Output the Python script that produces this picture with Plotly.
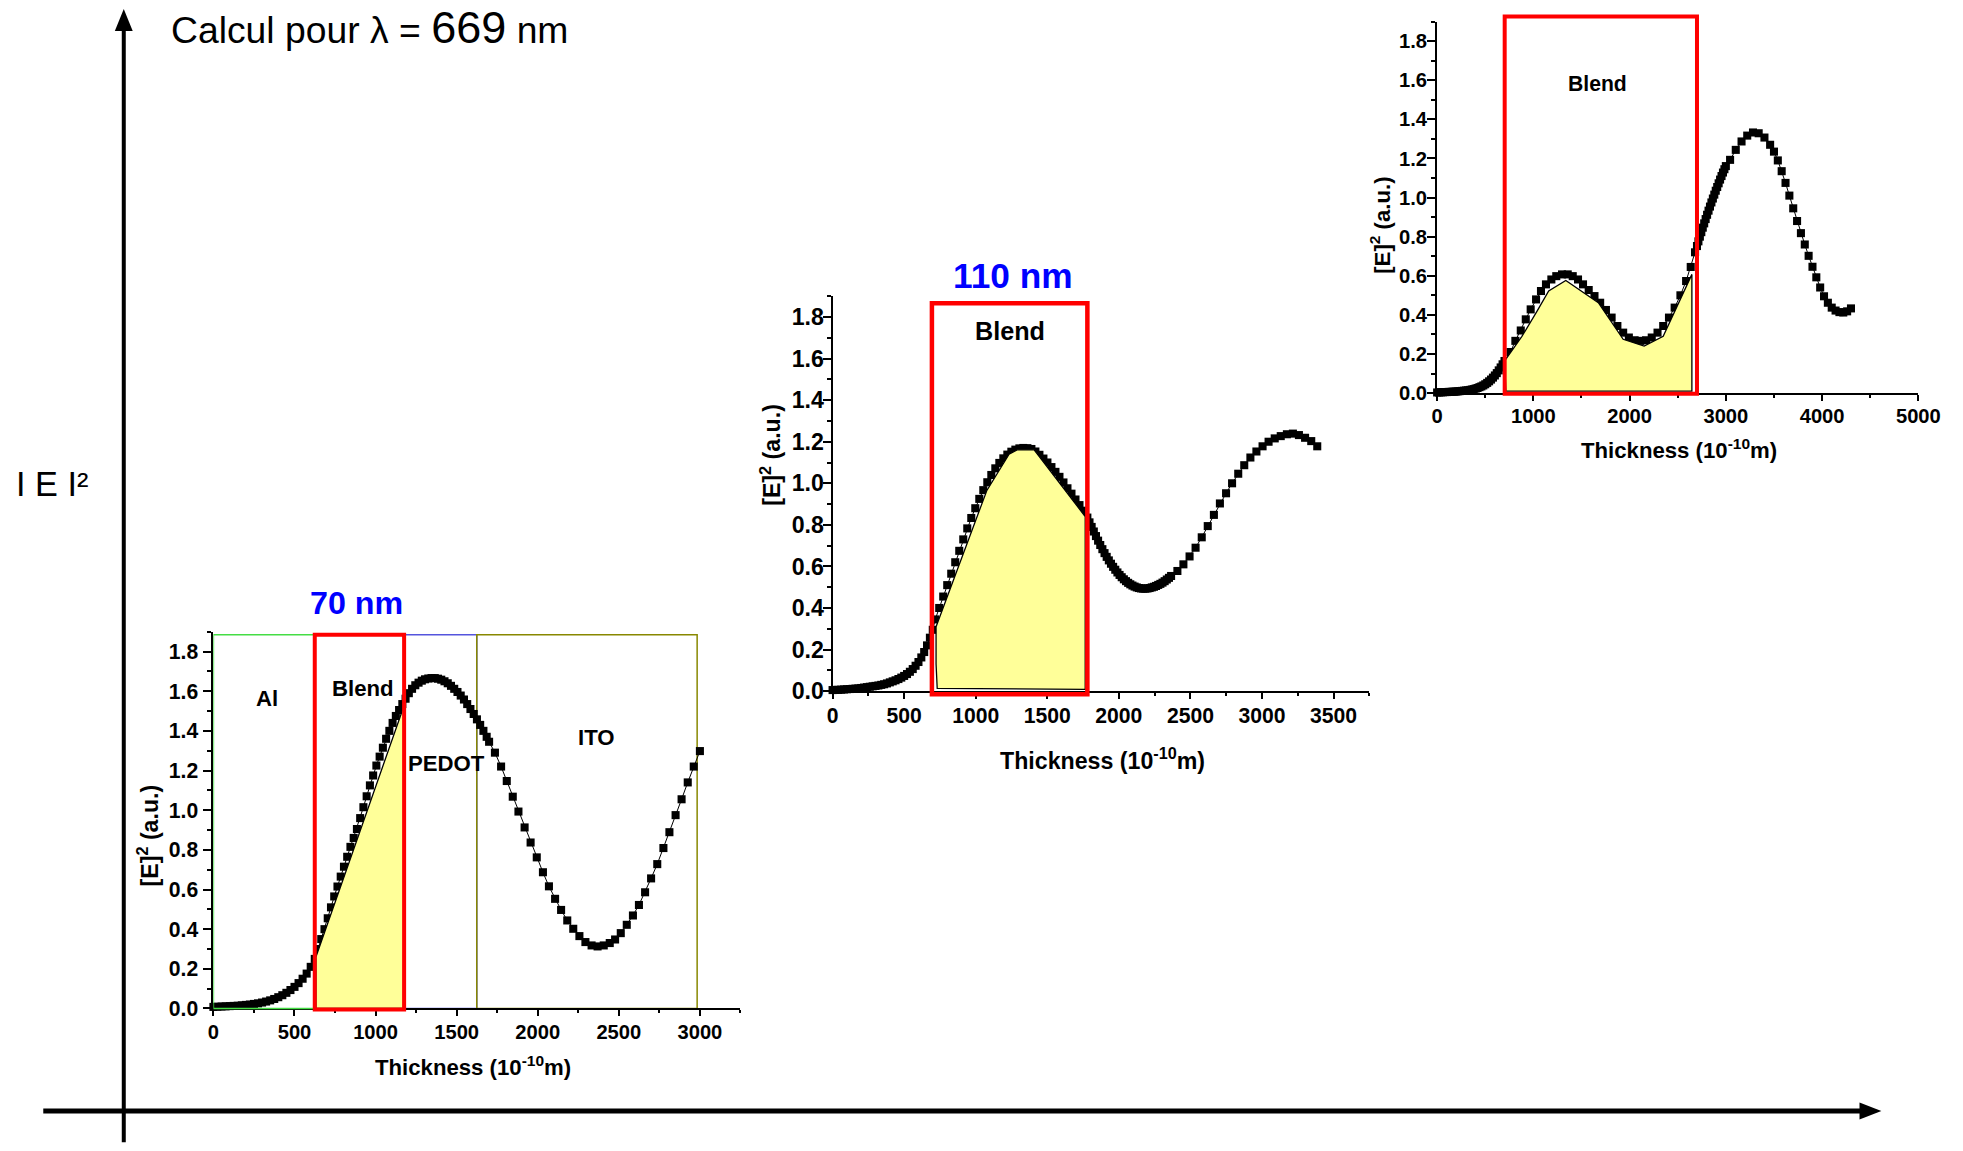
import plotly.graph_objects as go

FONT = "Arial, Liberation Sans, sans-serif"

# ---------------- data: 70 nm blend (bottom-left inset) ----------------
thick_70 = [0, 25, 50, 75, 100, 125, 150, 175, 200, 225, 250, 275, 300, 325, 350, 375, 400, 425, 450, 475,
            500, 525, 550, 575, 600, 625,
            645, 665, 685, 705, 725, 745, 765, 785, 805, 825, 845, 865, 885, 905, 925, 945, 965, 985,
            1005, 1025, 1045, 1065, 1085, 1105, 1125, 1145, 1165, 1185,
            1205, 1225, 1245, 1265, 1285, 1305, 1325, 1345, 1365, 1385, 1405, 1425, 1445, 1465, 1485,
            1505, 1525, 1545, 1565, 1585, 1605, 1625, 1645, 1665, 1685, 1700,
            1736, 1774, 1809, 1846, 1881, 1919, 1956, 1994, 2032, 2069, 2107, 2144, 2182, 2219, 2257,
            2294, 2332, 2369, 2407, 2444, 2477, 2512, 2549, 2587, 2624, 2662, 2699, 2737, 2775, 2812,
            2850, 2887, 2925, 2962, 3000]
e2_70 = [0.008, 0.009, 0.010, 0.011, 0.012, 0.013, 0.014, 0.016, 0.018, 0.020, 0.023, 0.026, 0.030, 0.035,
         0.041, 0.048, 0.057, 0.067, 0.079, 0.093, 0.109, 0.128, 0.150, 0.176, 0.210, 0.250,
         0.300, 0.350, 0.400, 0.455, 0.510, 0.565, 0.615, 0.665, 0.715, 0.765, 0.815, 0.860, 0.905, 0.960,
         1.015, 1.070, 1.125, 1.175, 1.225, 1.270, 1.315, 1.360, 1.400, 1.440, 1.475, 1.505, 1.535, 1.562,
         1.590, 1.612, 1.630, 1.643, 1.653, 1.660, 1.664, 1.666, 1.666, 1.663, 1.658, 1.650, 1.640, 1.627,
         1.612, 1.596, 1.578, 1.558, 1.535, 1.510, 1.485, 1.458, 1.430, 1.400, 1.370, 1.345,
         1.290, 1.220, 1.147, 1.068, 0.993, 0.913, 0.837, 0.762, 0.687, 0.616, 0.553, 0.497, 0.444, 0.402,
         0.365, 0.335, 0.318, 0.313, 0.318, 0.330, 0.348, 0.380, 0.422, 0.469, 0.522, 0.586, 0.656, 0.728,
         0.809, 0.889, 0.975, 1.055, 1.140, 1.220, 1.298]
fill_70_x = [632, 1177, 1172, 632, 632]
fill_70_y = [0.26, 1.53, 0.0, 0.0, 0.26]
layers_70 = [0, 625, 1176, 1624, 2983]          # Al | Blend | PEDOT | ITO
layer_names_70 = ["Al", "Blend", "PEDOT", "ITO"]

# ---------------- data: 110 nm blend (middle inset) ----------------
thick_110 = [0, 20, 40, 60, 80, 100, 120, 140, 160, 180, 200, 220, 240, 260, 280, 300, 320, 340, 360, 380,
             400, 420, 440, 460, 480, 500, 520, 540, 560, 580, 600, 620, 640, 660, 680, 700,
             717, 745, 773, 801, 829, 857, 885, 913, 941, 969, 997, 1025, 1053, 1081, 1109, 1137, 1165,
             1193, 1221, 1249, 1277, 1305, 1333, 1361, 1389, 1417, 1445, 1473, 1501, 1529, 1557, 1585,
             1613, 1641, 1669, 1697, 1725, 1753,
             1780, 1795, 1810, 1825, 1840, 1855, 1870, 1885, 1900, 1915, 1930, 1945, 1960, 1975, 1990,
             2005, 2020, 2035, 2050, 2065, 2080, 2095, 2110, 2125, 2140, 2155, 2170, 2185, 2200, 2215,
             2230, 2245, 2260, 2275, 2290, 2305, 2320, 2335, 2350, 2365,
             2409, 2451, 2494, 2536, 2579, 2621, 2664, 2706, 2749, 2791, 2834, 2876, 2919, 2961, 3004,
             3046, 3089, 3131, 3174, 3216, 3258, 3301, 3344, 3386]
e2_110 = [0.005, 0.006, 0.006, 0.007, 0.008, 0.009, 0.010, 0.011, 0.012, 0.013, 0.015, 0.017, 0.019, 0.021,
          0.023, 0.025, 0.027, 0.030, 0.033, 0.037, 0.042, 0.047, 0.052, 0.058, 0.065, 0.073, 0.082, 0.093,
          0.106, 0.122, 0.140, 0.162, 0.188, 0.220, 0.257, 0.295,
          0.345, 0.400, 0.455, 0.510, 0.565, 0.620, 0.675, 0.730, 0.783, 0.833, 0.880, 0.925, 0.967, 1.005,
          1.040, 1.072, 1.098, 1.120, 1.138, 1.152, 1.162, 1.168, 1.170, 1.169, 1.165, 1.153, 1.137, 1.119,
          1.100, 1.078, 1.055, 1.031, 1.004, 0.976, 0.950, 0.922, 0.895, 0.868,
          0.835, 0.812, 0.790, 0.768, 0.746, 0.724, 0.703, 0.683, 0.664, 0.646, 0.629, 0.613, 0.598, 0.584,
          0.571, 0.559, 0.548, 0.538, 0.529, 0.521, 0.514, 0.508, 0.503, 0.499, 0.496, 0.494, 0.493, 0.493,
          0.494, 0.496, 0.499, 0.502, 0.506, 0.511, 0.516, 0.522, 0.529, 0.537, 0.545, 0.554,
          0.578, 0.610, 0.648, 0.690, 0.740, 0.794, 0.848, 0.903, 0.952, 1.000, 1.046, 1.087, 1.124, 1.153,
          1.178, 1.200, 1.216, 1.227, 1.236, 1.239, 1.232, 1.219, 1.203, 1.178]
fill_110_x = [723, 1077, 1233, 1289, 1408, 1765, 1765, 731, 723, 723]
fill_110_y = [0.31, 0.964, 1.14, 1.161, 1.161, 0.84, 0.008, 0.013, 0.13, 0.31]
blend_110 = [694, 1780]

# ---------------- data: 200 nm blend (top-right inset) ----------------
thick_200 = [0, 20, 40, 60, 80, 100, 120, 140, 160, 180, 200, 220, 240, 260, 280, 300, 320, 340, 360, 380,
             400, 420, 440, 460, 480, 500, 520, 540, 560, 580, 600, 620, 640, 660, 680, 700,
             762, 813, 869, 921, 972, 1028, 1079, 1131, 1187, 1238, 1298, 1357, 1409, 1464, 1516, 1575,
             1635, 1694, 1754, 1813, 1873, 1933, 1992, 2052, 2111, 2171, 2230, 2290, 2349, 2409, 2468,
             2528, 2587, 2635, 2680,
             2700, 2715, 2730, 2745, 2760, 2775, 2790, 2805, 2820, 2835, 2850, 2865, 2880, 2895, 2910,
             2925, 2940, 2955, 2970, 2985, 3000,
             3044, 3103, 3163, 3222, 3282, 3341, 3401, 3460,
             3500, 3540, 3580, 3620, 3660, 3700, 3740, 3780, 3820, 3860, 3900, 3940, 3980, 4020, 4060,
             4100, 4140, 4180, 4220, 4260, 4300]
e2_200 = [0.003, 0.003, 0.004, 0.004, 0.005, 0.005, 0.006, 0.006, 0.007, 0.007, 0.008, 0.009, 0.010, 0.011,
          0.012, 0.013, 0.014, 0.016, 0.018, 0.020, 0.023, 0.026, 0.030, 0.034, 0.039, 0.045, 0.052, 0.060,
          0.069, 0.079, 0.090, 0.102, 0.116, 0.131, 0.147, 0.164,
          0.210, 0.267, 0.320, 0.377, 0.428, 0.479, 0.522, 0.556, 0.581, 0.598, 0.607, 0.607, 0.598, 0.581,
          0.556, 0.527, 0.496, 0.462, 0.425, 0.386, 0.343, 0.309, 0.284, 0.270, 0.267, 0.270, 0.284, 0.309,
          0.343, 0.386, 0.437, 0.500, 0.573, 0.645, 0.720,
          0.752, 0.776, 0.800, 0.823, 0.846, 0.868, 0.890, 0.912, 0.933, 0.954, 0.975, 0.995, 1.015, 1.035,
          1.054, 1.073, 1.092, 1.110, 1.128, 1.145, 1.161,
          1.193, 1.244, 1.287, 1.317, 1.333, 1.329, 1.307, 1.270,
          1.235, 1.190, 1.135, 1.075, 1.010, 0.945, 0.880, 0.818, 0.760, 0.702, 0.646, 0.592, 0.540, 0.495,
          0.462, 0.437, 0.422, 0.414, 0.412, 0.418, 0.433]
fill_200_x = [702, 881, 1040, 1159, 1337, 1675, 1933, 2151, 2349, 2647, 2647, 714, 702]
fill_200_y = [0.165, 0.29, 0.42, 0.522, 0.576, 0.462, 0.275, 0.24, 0.29, 0.607, 0.01, 0.01, 0.165]
blend_200 = [702, 2700]

# ---------------- geometry helpers ----------------
W, H = 1963.0, 1151.0
K = 1963.0 / 1947.0          # the photographed page comes out ~0.8 % smaller; compensate
def px(x): return x * K / W
def py(y): return 1 - y * K / H
def fs(s): return s * K

fig = go.Figure()

def curve(x, y, xa, ya):
    fig.add_trace(go.Scatter(x=x, y=y, mode="lines+markers", xaxis=xa, yaxis=ya,
                             line=dict(color="black", width=1),
                             marker=dict(symbol="square", size=fs(8), color="black", line=dict(width=0)),
                             cliponaxis=False, hoverinfo="skip"))

def fill(x, y, xa, ya):
    fig.add_trace(go.Scatter(x=x, y=y, mode="lines", fill="toself", fillcolor="#ffff99",
                             xaxis=xa, yaxis=ya, line=dict(color="black", width=1.3),
                             hoverinfo="skip"))

curve(thick_70, e2_70, "x", "y")
fill(fill_70_x, fill_70_y, "x", "y")
curve(thick_110, e2_110, "x2", "y2")
fill(fill_110_x, fill_110_y, "x2", "y2")
curve(thick_200, e2_200, "x3", "y3")
fill(fill_200_x, fill_200_y, "x3", "y3")


def xax(domain, anchor, rng, dtick, mdtick, size):
    return dict(domain=domain, anchor=anchor, range=rng, dtick=dtick, tick0=0,
                showline=True, linecolor="black", linewidth=2,
                ticks="outside", ticklen=6, tickwidth=1.5, tickcolor="black",
                minor=dict(dtick=mdtick, ticks="outside", ticklen=3, tickwidth=1.5, tickcolor="black"),
                tickfont=dict(family=FONT, size=fs(size), color="black", weight="bold"),
                ticklabelstandoff=-2,
                showgrid=False, zeroline=False, fixedrange=True)


def yax(domain, anchor, size, standoff):
    return dict(domain=domain, anchor=anchor, range=[0, 1.9], dtick=0.2, tick0=0, tickformat=".1f",
                showline=True, linecolor="black", linewidth=2,
                ticks="outside", ticklen=8, tickwidth=1.5, tickcolor="black",
                minor=dict(dtick=0.1, ticks="outside", ticklen=4, tickwidth=1.5, tickcolor="black"),
                tickfont=dict(family=FONT, size=fs(size), color="black", weight="bold"),
                ticklabelstandoff=standoff,
                showgrid=False, zeroline=False, fixedrange=True)


shapes = []
# layer boxes of the 70 nm structure
layer_styles = [("#44dd44", 1.5, "above"), ("#ff0000", 4, "above"),
                ("#5555dd", 1.5, "below"), ("#888800", 1.5, "below")]
for i, (col, w, lay) in enumerate(layer_styles):
    shapes.append(dict(type="rect", xref="x", yref="y domain",
                       x0=layers_70[i], x1=layers_70[i + 1],
                       y0=-0.003 if col == "#ff0000" else 0, y1=0.992,
                       line=dict(color=col, width=w), layer=lay))
shapes.append(dict(type="rect", xref="x2", yref="y2 domain", x0=blend_110[0], x1=blend_110[1],
                   y0=-0.008, y1=0.982, line=dict(color="#ff0000", width=4.5), layer="above"))
shapes.append(dict(type="rect", xref="x3", yref="y3 domain", x0=blend_200[0], x1=blend_200[1],
                   y0=-0.002, y1=1.014, line=dict(color="#ff0000", width=4), layer="above"))

# big schematic axes (arrows)
shapes.append(dict(type="line", xref="paper", yref="paper", x0=px(118.5), x1=px(118.5),
                   y0=py(1146), y1=py(28), line=dict(color="black", width=4)))
shapes.append(dict(type="path", xref="paper", yref="paper", fillcolor="black", line=dict(width=0),
                   path=f"M {px(118.5)},{py(9)} L {px(109.5)},{py(31)} L {px(127.5)},{py(31)} Z"))
shapes.append(dict(type="line", xref="paper", yref="paper", x0=px(37.5), x1=px(1868),
                   y0=py(1114.5), y1=py(1114.5), line=dict(color="black", width=5)))
shapes.append(dict(type="path", xref="paper", yref="paper", fillcolor="black", line=dict(width=0),
                   path=f"M {px(1887)},{py(1114.5)} L {px(1865)},{py(1106)} L {px(1865)},{py(1123)} Z"))

ann = []
def txt(text, x, y, xref, yref, size, color="black", bold=True, angle=0, xanchor="center", yanchor="middle"):
    ann.append(dict(text=text, x=x, y=y, xref=xref, yref=yref, showarrow=False, textangle=angle,
                    xanchor=xanchor, yanchor=yanchor,
                    font=dict(family=FONT, size=fs(size), color=color, weight="bold" if bold else "normal")))

xtitle = "Thickness (10<sup>-10</sup>m)"
ytitle = "[E]<sup>2</sup> (a.u.)"

# inset 1 texts
txt("70 nm", px(353), py(605), "paper", "paper", 32, color="#0000ff")
txt(layer_names_70[0], 330, 1.565, "x", "y", 22)
txt(layer_names_70[1], 920, 1.615, "x", "y", 22)
txt(layer_names_70[2], 1440, 1.235, "x", "y", 22)
txt(layer_names_70[3], 2360, 1.365, "x", "y", 22)
txt(xtitle, px(470), py(1069), "paper", "paper", 22)
txt(ytitle, px(143), py(838), "paper", "paper", 23, angle=-90)

# inset 2 texts
txt("110 nm", px(1013), py(276), "paper", "paper", 35, color="#0000ff")
txt("Blend", 1240, 1.735, "x2", "y2", 25)
txt(xtitle, px(1103), py(761), "paper", "paper", 23)
txt(ytitle, px(769), py(456), "paper", "paper", 23, angle=-90)

# inset 3 texts (label cut by the top edge, as in the original)
txt("200 nm", px(1590), py(7), "paper", "paper", 35, color="#0000ff", yanchor="bottom")
txt("Blend", 1665, 1.584, "x3", "y3", 21)
txt(xtitle, px(1683), py(450), "paper", "paper", 22)
txt(ytitle, px(1383), py(226), "paper", "paper", 22, angle=-90)

# global texts
txt("Calcul pour λ = <span style='font-size:%dpx'>669</span> nm" % round(fs(45)), px(164), 1.0,
    "paper", "paper", 37, bold=False, xanchor="left", yanchor="top")
txt("I E I²", px(8), py(486), "paper", "paper", 34, bold=False, xanchor="left")

fig.update_layout(
    width=1963, height=1151, margin=dict(l=0, r=0, t=0, b=0),
    paper_bgcolor="white", plot_bgcolor="rgba(0,0,0,0)", showlegend=False,
    xaxis=xax([px(208.7), px(739)], "y", [0, 3250], 500, 250, 20),
    yaxis=yax([py(1011.7), py(633.7)], "x", 21, 1),
    xaxis2=xax([px(831.7), px(1371.8)], "y2", [0, 3750], 500, 250, 21),
    yaxis2=yax([py(693.3), py(297.2)], "x2", 23, -6),
    xaxis3=xax([px(1440), px(1924.2)], "y3", [0, 5000], 1000, 500, 20),
    yaxis3=yax([py(394.3), py(21.7)], "x3", 20, -4),
    shapes=shapes, annotations=ann,
)

fig.write_html("out.html")
